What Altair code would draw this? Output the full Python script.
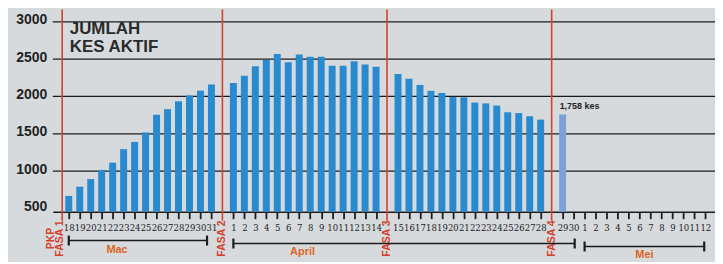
import altair as alt
import pandas as pd

# ---------------- data ----------------
mac_days = list(range(18, 32))
mac_values = [668, 791, 893, 1016, 1113, 1294, 1391, 1518, 1755, 1830, 1935, 2013, 2078, 2160]
apr_days = list(range(1, 31))
apr_values = [2179, 2278, 2406, 2488, 2570, 2457, 2561, 2532, 2531, 2412, 2410, 2470, 2428, 2398,
              2301, 2237, 2154, 2075, 2047, 1992, 1989, 1918, 1907, 1878, 1788, 1777, 1735, 1690, 1758]
may_days = list(range(1, 13))
month_names = ["Mac", "April", "Mei"]
phase_names = ["FASA 2", "FASA 3", "FASA 4"]
phase_after = [("Mac", 31), ("April", 14), ("April", 28)]
y_ticks = [500, 1000, 1500, 2000, 2500, 3000]
grid_values = [1000, 1500, 2000, 2500, 3000]
title_lines = ["JUMLAH", "KES AKTIF"]

# ---------------- slots along the time axis ----------------
seq = []
for m, days in zip(month_names, [mac_days, apr_days, may_days]):
    for d in days:
        seq.append((m, d))
        if (m, d) in phase_after:
            seq.append(("PHASE", phase_names[phase_after.index((m, d))]))
slot_of = {item: i for i, item in enumerate(seq)}
tick_slots = [i for i, it in enumerate(seq) if it[0] != "PHASE"]
tick_labels = [("" if it[0] == "PHASE" else str(it[1])) for it in seq]
phase_slots = [slot_of[("PHASE", p)] for p in phase_names]

rows = []
for d, v in zip(mac_days, mac_values):
    rows.append({"slot": slot_of[("Mac", d)], "value": v, "kind": "past"})
for d, v in zip(apr_days, apr_values):
    rows.append({"slot": slot_of[("April", d)], "value": v, "kind": "past"})
rows[-1]["kind"] = "latest"
bars_df = pd.DataFrame(rows)
latest_df = bars_df.tail(1).assign(label=lambda t: t["value"].map(lambda v: f"{v:,} kes"))

red = "#d6402a"
ink = "#1c1c1c"
orange = "#e2621e"

xs = alt.Scale(domain=[-1, 58.43], nice=False, zero=False)
ys = alt.Scale(domain=[457, 3124], nice=False, zero=False)

label_expr = "[" + ",".join(f"'{l}'" for l in tick_labels) + "][datum.value]"

x_axis = alt.Axis(values=tick_slots, tickCount=500, labelExpr=label_expr,
                  title=None, grid=False, domain=True, domainColor=ink,
                  domainWidth=1.6, ticks=True, tickSize=7, tickWidth=1.8,
                  tickColor=ink, labelFontSize=9.5, labelColor="#222222",
                  labelPadding=4,
                  labelFont="Liberation Sans Narrow, DejaVu Serif Condensed, Liberation Serif",
                  labelAngle=0, labelOverlap=False, labelFlush=False)
y_axis = alt.Axis(values=y_ticks, tickCount=100, format="d", title=None,
                  domain=False, ticks=False, grid=False, labelFontSize=14,
                  labelFontWeight="bold", labelColor="#222222", labelPadding=6,
                  labelOffset=-2, labelOverlap=False, labelFont="Liberation Sans")


def X(field):
    return alt.X(field, scale=xs, axis=x_axis)


def Y(field):
    return alt.Y(field, scale=ys, axis=y_axis)


grid = alt.Chart(pd.DataFrame({"g": grid_values})).mark_rule(color=ink, strokeWidth=1.3).encode(
    y=Y("g:Q"))

bars = alt.Chart(bars_df).mark_bar(width=7).encode(
    x=X("slot:Q"),
    y=Y("value:Q"),
    y2=alt.datum(457),
    color=alt.Color("kind:N", scale=alt.Scale(domain=["past", "latest"], range=["#2a8ad0", "#7ea0d8"]),
                    legend=None),
)

latest_label = alt.Chart(latest_df).mark_text(align="left", baseline="alphabetic", dx=-3, dy=-6,
                                              fontSize=9, fontWeight="bold", color="#222222",
                                              font="Liberation Sans").encode(
    x=X("slot:Q"), y=Y("value:Q"), text="label:N")

red_df = pd.DataFrame({"slot": [-0.6] + phase_slots})
red_lines = alt.Chart(red_df).mark_rule(color=red, strokeWidth=1.6).encode(
    x=X("slot:Q"), y=alt.value(-3), y2=alt.value(209))

phase_df = pd.DataFrame({"slot": [-1.6, -0.8] + phase_slots,
                         "name": ["PKP", "FASA 1"] + phase_names})
phase_text = alt.Chart(phase_df).mark_text(angle=270, fontSize=10.5, fontWeight="bold", color=red,
                                           font="Liberation Sans", align="center",
                                           baseline="middle").encode(
    x=X("slot:Q"), y=alt.value(227), text="name:N")

br_df = pd.DataFrame({
    "month": month_names,
    "start": [slot_of[("Mac", mac_days[0])], slot_of[("April", apr_days[0])], slot_of[("Mei", may_days[0])]],
    "end": [slot_of[("Mac", mac_days[-1])] - 0.4, slot_of[("April", apr_days[-1])] + 0.1,
            slot_of[("Mei", may_days[-1])] - 0.1],
    "ypos": [229, 232, 235],
})
br_df["lab"] = [br_df["start"][0] + 4.4, br_df["start"][1] + 6.3, (br_df["start"][2] + br_df["end"][2]) / 2]

br_lines = alt.Chart(br_df).mark_rule(color=ink, strokeWidth=1.4).encode(
    x=X("start:Q"), x2="end:Q", y=alt.Y("ypos:Q", scale=None))
cap_df = pd.concat([br_df[["start", "ypos"]].rename(columns={"start": "s"}),
                    br_df[["end", "ypos"]].rename(columns={"end": "s"})])
caps = alt.Chart(cap_df).mark_rule(color=ink, strokeWidth=2.2).encode(
    x=X("s:Q"), y=alt.Y("top:Q", scale=None), y2="bot:Q"
).transform_calculate(top="datum.ypos - 5", bot="datum.ypos + 5")
month_text = alt.Chart(br_df).mark_text(fontSize=11, fontWeight="bold", color=orange,
                                        font="Liberation Sans", baseline="middle").encode(
    x=X("lab:Q"), y=alt.Y("ty:Q", scale=None), text="month:N"
).transform_calculate(ty="datum.ypos + 9")

title = alt.Chart(pd.DataFrame({"t": [0]})).mark_text(
    text=title_lines, align="left", baseline="alphabetic", fontSize=17, fontWeight="bold",
    color="#2a2a2a", font="Liberation Sans", lineHeight=17.5
).encode(x=alt.value(17), y=alt.value(22))

chart = alt.layer(grid, bars, red_lines, latest_label, phase_text, br_lines, caps, month_text, title).properties(
    width=665, height=200,
    autosize=alt.AutoSizeParams(type="none"),
    padding={"left": 45, "top": 4, "right": 0, "bottom": 50},
).configure(background="#d6dadd").configure_view(stroke=None).configure_axis(labelOverlap=False)

chart.save("out.html", embed_options={"renderer": "svg", "actions": False})
